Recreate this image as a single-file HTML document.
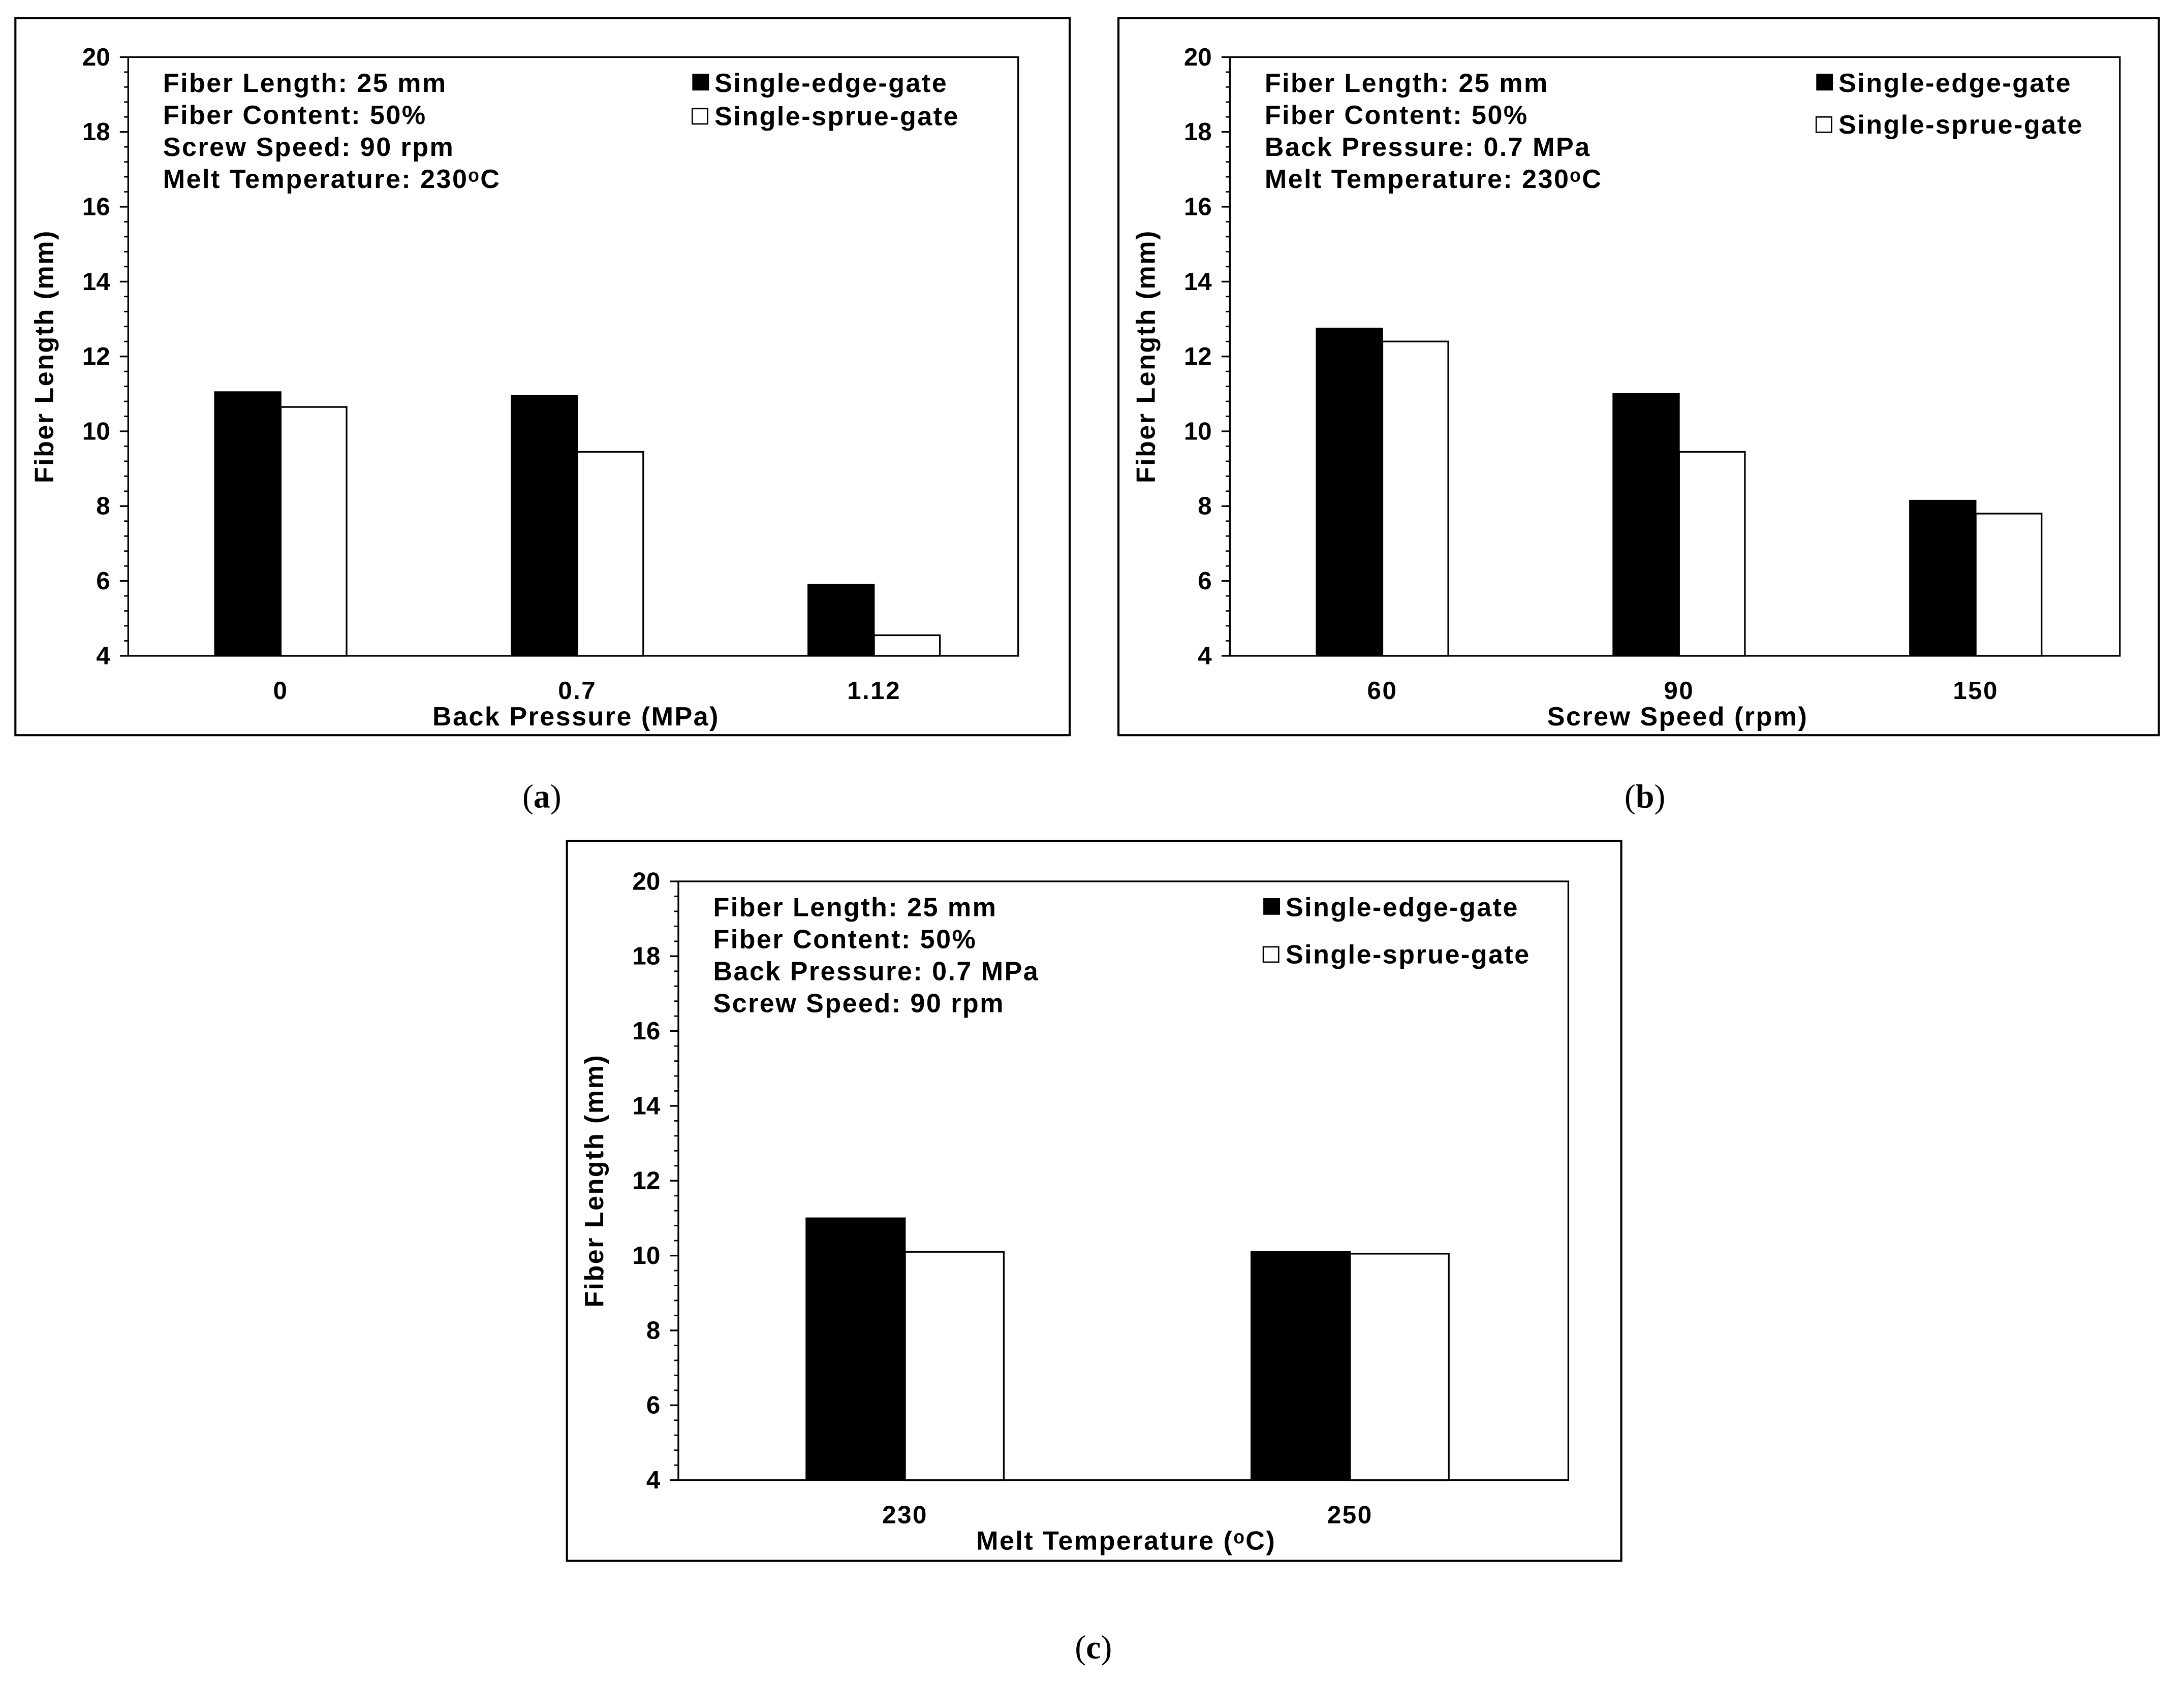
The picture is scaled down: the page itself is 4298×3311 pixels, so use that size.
<!DOCTYPE html>
<html><head><meta charset="utf-8"><style>
html,body{margin:0;padding:0;background:#fff;}
svg{display:block;}
text{font-family:"Liberation Sans",Arial,sans-serif;font-weight:bold;fill:#000;}
.wide{letter-spacing:0.9px;}
.cap{font-family:"Liberation Serif",serif;font-weight:normal;font-size:24px;}
</style></head><body>
<svg id="fig" width="4298" height="3311" viewBox="0 0 1568 1208" xmlns="http://www.w3.org/2000/svg"></svg>
<script>
const catsA = ["0", "0.7", "1.12"];
const edgeA = [11.05, 10.95, 5.9];
const sprueA = [10.65, 9.45, 4.55];
const catsB = ["60", "90", "150"];
const edgeB = [12.75, 11.0, 8.15];
const sprueB = [12.4, 9.45, 7.8];
const catsC = ["230", "250"];
const edgeC = [11.0, 10.1];
const sprueC = [10.1, 10.05];
const yTicks = [4, 6, 8, 10, 12, 14, 16, 18, 20];

const NS = "http://www.w3.org/2000/svg";
const svg = document.getElementById("fig");
function mk(tag, attrs, parent, txt){
  const e = document.createElementNS(NS, tag);
  for (const k in attrs) e.setAttribute(k, attrs[k]);
  if (txt !== undefined) e.textContent = txt;
  (parent || svg).appendChild(e);
  return e;
}

function panel(id, box, plot, cats, edge, sprue, info, xTitle, legX, legY2, caption){
  const g = mk("g", {});
  
  
  const frame = mk("rect", {x: box[0], y: box[1], width: box[2]-box[0], height: box[3]-box[1], fill: "#fff", stroke: "#000", "stroke-width": 1.5}, g);
  
  
  const [x0, y0, x1, y1] = plot;
  const yMin = 4, yMax = 20;
  const ys = v => y1 - (v - yMin) / (yMax - yMin) * (y1 - y0);
  const cw = (x1 - x0) / cats.length;
  const xc = i => x0 + cw * (i + 0.5) + 3;
  const bw = cw * 0.222;
  const pa = mk("rect", {x: x0, y: y0, width: x1-x0, height: y1-y0, fill: "none", stroke: "#000", "stroke-width": 1.2}, g);
  
  
  for (let v = yMin; v <= yMax + 1e-6; v += 0.4) {
    const t = mk("line", {x1: x0-3, x2: x0, y1: ys(v), y2: ys(v), stroke: "#000", "stroke-width": 1}, g);
    
    
  }
  yTicks.forEach(v => {
    const t = mk("line", {x1: x0-6, x2: x0, y1: ys(v), y2: ys(v), stroke: "#000", "stroke-width": 1.2}, g);
    
    
    const l = mk("text", {x: x0-13, y: ys(v)+6, "text-anchor": "end", "font-size": 18}, g, String(v));
    
    
  });
  cats.forEach((c, i) => {
    const b1 = mk("rect", {x: xc(i)-bw, y: ys(edge[i]), width: bw, height: y1-ys(edge[i]), fill: "#000", stroke: "#000", "stroke-width": 1}, g);
    
    
    const b2 = mk("rect", {x: xc(i), y: ys(sprue[i]), width: bw, height: y1-ys(sprue[i]), fill: "#fff", stroke: "#000", "stroke-width": 1.2}, g);
    
    
    const l = mk("text", {x: xc(i), y: y1+31, "text-anchor": "middle", "font-size": 18, "class": "wide"}, g, c);
    
    
  });
  const xt = mk("text", {x: (x0+x1)/2 + 2, y: y1+50, "text-anchor": "middle", "font-size": 19, "class": "wide"}, g, xTitle);
  
  
  const ycy = (y0+y1)/2;
  const yt = mk("text", {x: x0-54, y: ycy, "text-anchor": "middle", "font-size": 19, "class": "wide", transform: "rotate(-90 " + (x0-54) + " " + ycy + ")"}, g, "Fiber Length (mm)");
  
  
  info.forEach((s, i) => {
    const t = mk("text", {x: x0+25, y: y0+25+i*23, "font-size": 19, "class": "wide"}, g, s);
    
    
  });
  const lx = x1 - legX;
  const s1 = mk("rect", {x: lx, y: y0+12, width: 12, height: 12, fill: "#000"}, g);
  
  
  const t1 = mk("text", {x: lx+16, y: y0+25, "font-size": 19, "class": "wide"}, g, "Single-edge-gate");
  
  
  const s2 = mk("rect", {x: lx, y: y0+legY2-11, width: 11, height: 11, fill: "#fff", stroke: "#000", "stroke-width": 1}, g);
  
  
  const t2 = mk("text", {x: lx+16, y: y0+legY2+1, "font-size": 19, "class": "wide"}, g, "Single-sprue-gate");
  
  
  const cp = mk("text", {x: caption[1], y: caption[2], "text-anchor": "middle", "class": "cap"}, g);
  
  
  mk("tspan", {}, cp, "(");
  mk("tspan", {"font-weight": "bold"}, cp, caption[0]);
  mk("tspan", {}, cp, ")");
}

panel("a", [11,13,768,528], [92,41,731,471], catsA, edgeA, sprueA,
  ["Fiber Length:  25 mm", "Fiber Content:  50%", "Screw Speed: 90 rpm", "Melt Temperature:  230\u1D52C"],
  "Back Pressure (MPa)", 234, 48, ["a", 389, 580]);
panel("b", [803,13,1550,528], [883,41,1522,471], catsB, edgeB, sprueB,
  ["Fiber Length:  25 mm", "Fiber Content:  50%", "Back Pressure: 0.7 MPa", "Melt Temperature:  230\u1D52C"],
  "Screw Speed (rpm)", 218, 54, ["b", 1181, 580]);
panel("c", [407,604,1164,1121], [487,633,1126,1063], catsC, edgeC, sprueC,
  ["Fiber Length:  25 mm", "Fiber Content:  50%", "Back Pressure: 0.7 MPa", "Screw Speed: 90 rpm"],
  "Melt Temperature (\u1D52C)", 219, 58, ["c", 785, 1191]);
</script>
</body></html>
